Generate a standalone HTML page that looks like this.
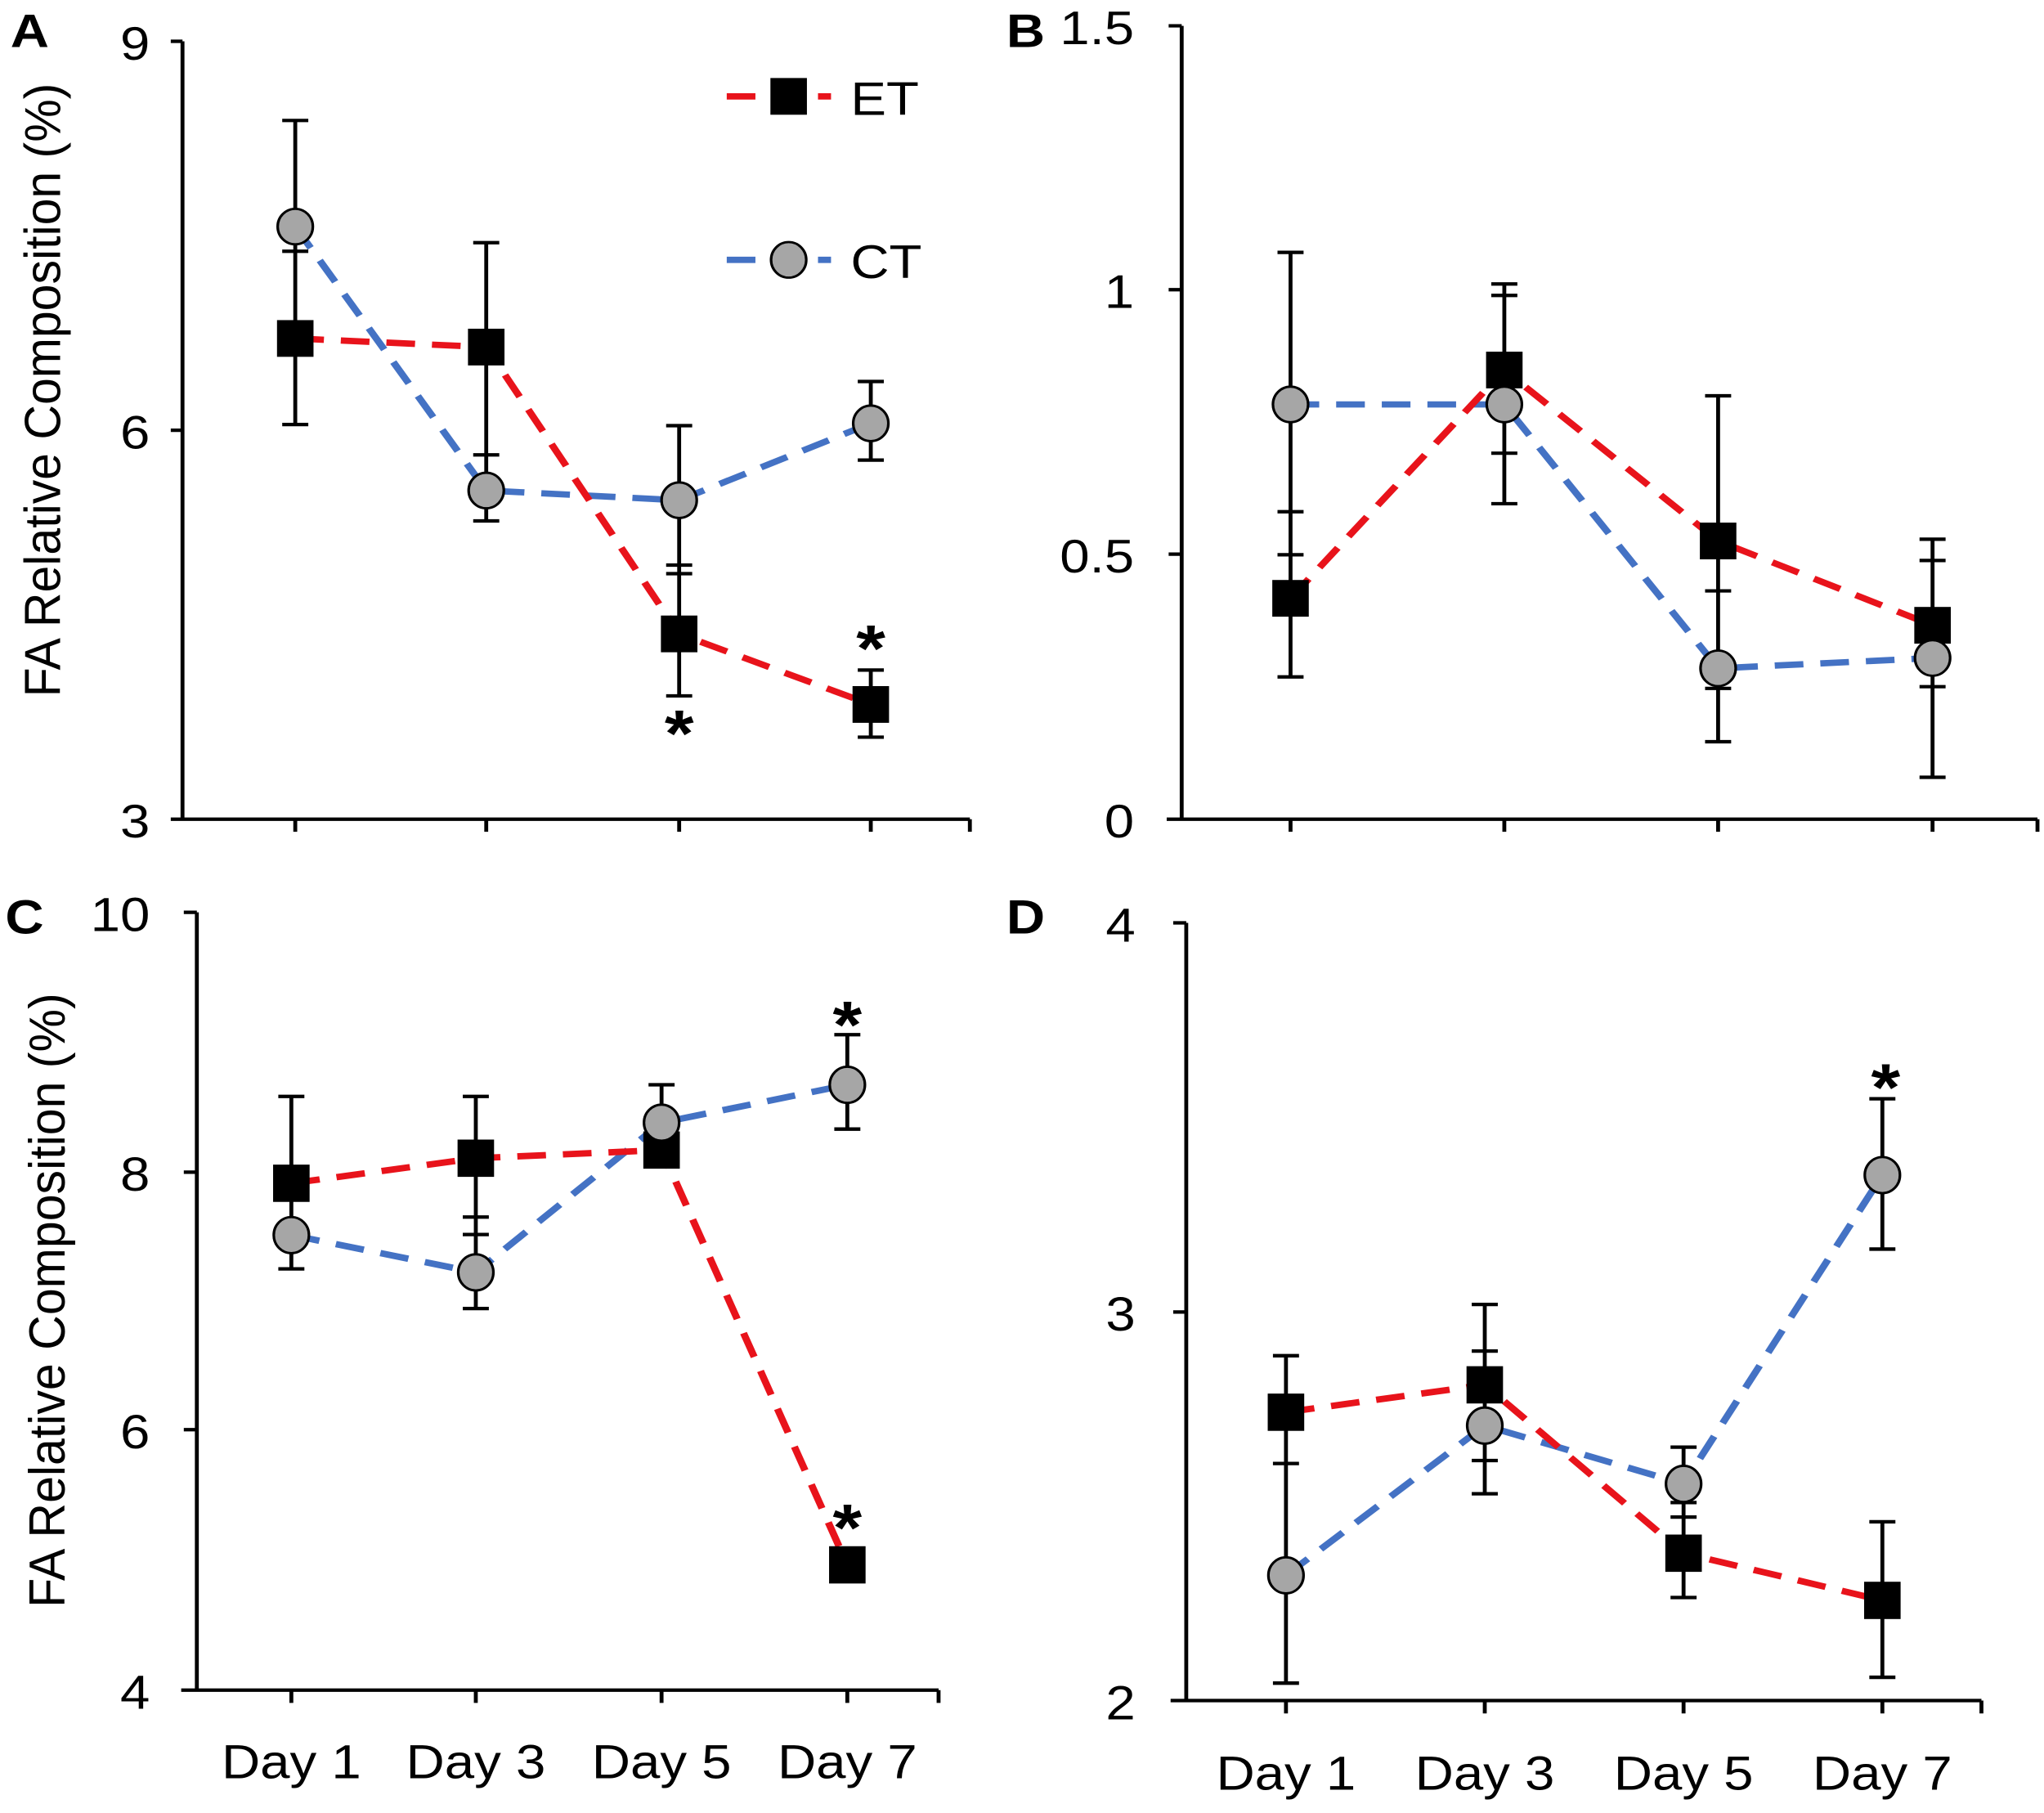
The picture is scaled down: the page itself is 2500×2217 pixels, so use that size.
<!DOCTYPE html>
<html><head><meta charset="utf-8"><style>
html,body{margin:0;padding:0;background:#fff;overflow:hidden}
svg{display:block}
text{font-family:"Liberation Sans",sans-serif;fill:#000}
.ax{stroke:#000;stroke-width:6;fill:none}
.et{stroke:#e8131b;stroke-width:11;stroke-dasharray:44 26;fill:none}
.ct{stroke:#4472c4;stroke-width:11;stroke-dasharray:44 26;fill:none}
.eb{stroke:#000;stroke-width:6;fill:none}
.sq{fill:#000}
.ci{fill:#a6a6a6;stroke:#000;stroke-width:4}
.tl{font-size:82px}
.yl{font-size:78px}
.pl{font-size:82px;font-weight:bold}
.st{font-size:115px;font-weight:bold}
</style></head><body>
<svg width="2500" height="2217" viewBox="0 0 2500 2217" xmlns="http://www.w3.org/2000/svg">
<rect width="2500" height="2217" fill="#fff"/>

<!-- Panel A -->
<g transform="translate(0,0) scale(0.7972,0.7015)">
<text class="pl" x="16" y="82">A</text>
<path class="ax" d="M280 72V1428H1488M262 72H280M262 750H280M262 1428H280M453 1428v22M746 1428v22M1042 1428v22M1336 1428v22M1488 1428v22"/>
<text class="tl" x="230" y="104" text-anchor="end">9</text>
<text class="tl" x="230" y="782" text-anchor="end">6</text>
<text class="tl" x="230" y="1460" text-anchor="end">3</text>
<text class="yl" transform="translate(92,680) rotate(-90)" text-anchor="middle" textLength="1070" lengthAdjust="spacingAndGlyphs">FA Relative Composition (%)</text>
<polyline class="ct" points="453,395 746,855 1042,872 1336,738"/>
<polyline class="et" points="453,590 746,605 1042,1105 1336,1228"/>
<path class="eb" d="M453 210V740M433 210h40M433 438h40M433 740h40
M746 423V908M726 423h40M726 793h40M726 908h40
M1042 742V1213M1022 742h40M1022 985h40M1022 1000h40M1022 1213h40
M1336 665V802M1316 665h40M1316 802h40M1336 1168V1285M1316 1168h40M1316 1285h40"/>
<rect class="sq" x="425" y="558" width="56" height="64"/>
<rect class="sq" x="718" y="573" width="56" height="64"/>
<rect class="sq" x="1014" y="1073" width="56" height="64"/>
<rect class="sq" x="1308" y="1196" width="56" height="64"/>
<ellipse class="ci" cx="453" cy="395" rx="27" ry="31"/>
<ellipse class="ci" cx="746" cy="855" rx="27" ry="31"/>
<ellipse class="ci" cx="1042" cy="872" rx="27" ry="31"/>
<ellipse class="ci" cx="1336" cy="738" rx="27" ry="31"/>
<text class="st" x="1042" y="1318" text-anchor="middle">*</text>
<text class="st" x="1336" y="1170" text-anchor="middle">*</text>
<line class="et" x1="1115" y1="168" x2="1275" y2="168" stroke-dasharray="50 18"/>
<rect class="sq" x="1182" y="136" width="56" height="64"/>
<text class="tl" x="1305" y="200">ET</text>
<line class="ct" x1="1115" y1="453" x2="1275" y2="453" stroke-dasharray="50 18"/>
<ellipse class="ci" cx="1210" cy="453" rx="27" ry="31"/>
<text class="tl" x="1305" y="485">CT</text>
</g>

<!-- Panel B -->
<g transform="translate(1250,0) scale(0.7972,0.7015)">
<text class="pl" x="-24" y="82">B</text>
<path class="ax" d="M245 45V1428H1558M225 45H245M225 505H245M225 966H245M222 1428H245M412 1428v22M740 1428v22M1068 1428v22M1397 1428v22M1558 1428v22"/>
<text class="tl" x="172" y="77" text-anchor="end">1.5</text>
<text class="tl" x="172" y="537" text-anchor="end">1</text>
<text class="tl" x="172" y="998" text-anchor="end">0.5</text>
<text class="tl" x="172" y="1460" text-anchor="end">0</text>
<polyline class="ct" points="412,705 740,705 1068,1165 1397,1147"/>
<polyline class="et" points="412,1043 740,645 1068,943 1397,1090"/>
<path class="eb" d="M412 440V1180M392 440h40M392 892h40M392 967h40M392 1180h40
M740 495V878M720 495h40M720 515h40M720 790h40M720 878h40
M1068 690V1293M1048 690h40M1048 1030h40M1048 1200h40M1048 1293h40
M1397 940V1355M1377 940h40M1377 977h40M1377 1197h40M1377 1355h40"/>
<rect class="sq" x="384" y="1011" width="56" height="64"/>
<rect class="sq" x="712" y="613" width="56" height="64"/>
<rect class="sq" x="1040" y="911" width="56" height="64"/>
<rect class="sq" x="1369" y="1058" width="56" height="64"/>
<ellipse class="ci" cx="412" cy="705" rx="27" ry="31"/>
<ellipse class="ci" cx="740" cy="705" rx="27" ry="31"/>
<ellipse class="ci" cx="1068" cy="1165" rx="27" ry="31"/>
<ellipse class="ci" cx="1397" cy="1147" rx="27" ry="31"/>
</g>

<!-- Panel C -->
<g transform="translate(0,1100) scale(0.7972,0.7124)">
<text class="pl" x="8" y="58">C</text>
<path class="ax" d="M302 22V1357H1440M282 22H302M282 468H302M282 910H302M278 1357H302M447 1357v22M730 1357v22M1015 1357v22M1300 1357v22M1440 1357v22"/>
<text class="tl" x="230" y="54" text-anchor="end">10</text>
<text class="tl" x="230" y="500" text-anchor="end">8</text>
<text class="tl" x="230" y="942" text-anchor="end">6</text>
<text class="tl" x="230" y="1389" text-anchor="end">4</text>
<text class="yl" transform="translate(99,688) rotate(-90)" text-anchor="middle" textLength="1055" lengthAdjust="spacingAndGlyphs">FA Relative Composition (%)</text>
<text class="tl" x="447" y="1508" text-anchor="middle">Day 1</text>
<text class="tl" x="730" y="1508" text-anchor="middle">Day 3</text>
<text class="tl" x="1015" y="1508" text-anchor="middle">Day 5</text>
<text class="tl" x="1300" y="1508" text-anchor="middle">Day 7</text>
<polyline class="ct" points="447,576 730,640 1015,383 1300,318"/>
<polyline class="et" points="447,487 730,444 1015,430 1300,1142"/>
<path class="eb" d="M447 338V634M427 338h40M427 634h40
M730 338V702M710 338h40M710 545h40M710 575h40M710 702h40
M1015 318V430M995 318h40
M1300 232V394M1280 232h40M1280 394h40"/>
<rect class="sq" x="419" y="455" width="56" height="64"/>
<rect class="sq" x="702" y="412" width="56" height="64"/>
<rect class="sq" x="987" y="398" width="56" height="64"/>
<rect class="sq" x="1272" y="1110" width="56" height="64"/>
<ellipse class="ci" cx="447" cy="576" rx="27" ry="31"/>
<ellipse class="ci" cx="730" cy="640" rx="27" ry="31"/>
<ellipse class="ci" cx="1015" cy="383" rx="27" ry="31"/>
<ellipse class="ci" cx="1300" cy="318" rx="27" ry="31"/>
<text class="st" x="1300" y="255" text-anchor="middle">*</text>
<text class="st" x="1300" y="1118" text-anchor="middle">*</text>
</g>

<!-- Panel D -->
<g transform="translate(1250,1100) scale(0.7972,0.7124)">
<text class="pl" x="-24" y="58">D</text>
<path class="ax" d="M252 40V1375H1472M232 40H252M232 708H252M228 1375H252M405 1375v22M710 1375v22M1015 1375v22M1320 1375v22M1472 1375v22"/>
<text class="tl" x="174" y="72" text-anchor="end">4</text>
<text class="tl" x="174" y="740" text-anchor="end">3</text>
<text class="tl" x="174" y="1407" text-anchor="end">2</text>
<text class="tl" x="405" y="1528" text-anchor="middle">Day 1</text>
<text class="tl" x="710" y="1528" text-anchor="middle">Day 3</text>
<text class="tl" x="1015" y="1528" text-anchor="middle">Day 5</text>
<text class="tl" x="1320" y="1528" text-anchor="middle">Day 7</text>
<polyline class="ct" points="405,1160 710,903 1015,1003 1320,473"/>
<polyline class="et" points="405,880 710,833 1015,1122 1320,1203"/>
<path class="eb" d="M405 783V1345M385 783h40M385 968h40M385 1345h40
M710 695V1020M690 695h40M690 775h40M690 963h40M690 1020h40
M1015 940V1198M995 940h40M995 1035h40M995 1060h40M995 1198h40
M1320 342V600M1300 342h40M1300 600h40M1320 1068V1335M1300 1068h40M1300 1335h40"/>
<rect class="sq" x="377" y="848" width="56" height="64"/>
<rect class="sq" x="682" y="801" width="56" height="64"/>
<rect class="sq" x="987" y="1090" width="56" height="64"/>
<rect class="sq" x="1292" y="1171" width="56" height="64"/>
<ellipse class="ci" cx="405" cy="1160" rx="27" ry="31"/>
<ellipse class="ci" cx="710" cy="903" rx="27" ry="31"/>
<ellipse class="ci" cx="1015" cy="1003" rx="27" ry="31"/>
<ellipse class="ci" cx="1320" cy="473" rx="27" ry="31"/>
<text class="st" x="1325" y="362" text-anchor="middle">*</text>
</g>
</svg>
</body></html>
